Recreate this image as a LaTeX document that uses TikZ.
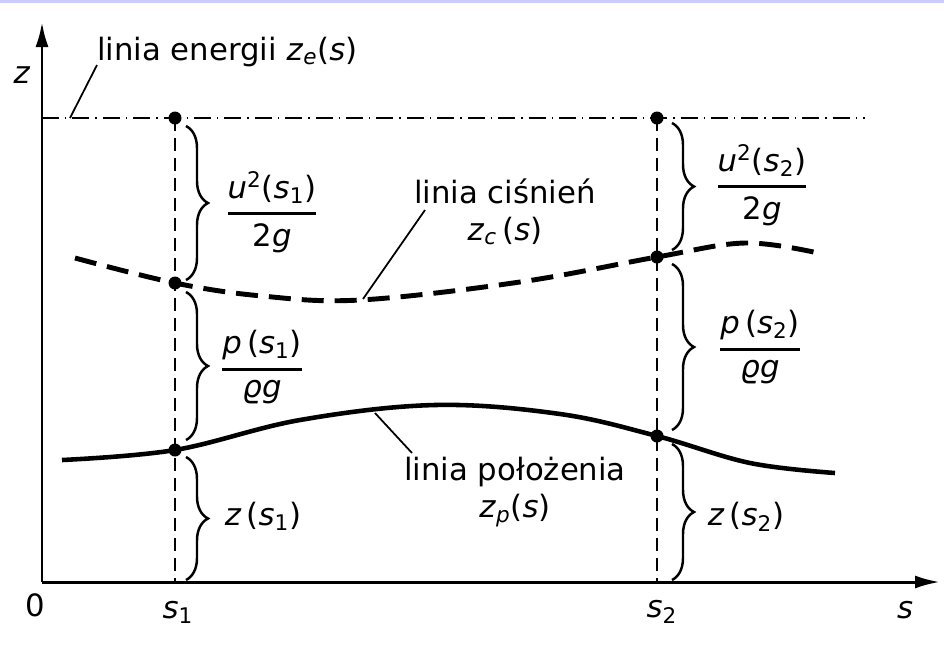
\documentclass[tikz,border=0pt]{standalone}
\usepackage{amsmath}
\usepackage{fontspec}
\setmainfont{DejaVu Sans}
\usetikzlibrary{arrows.meta,positioning,decorations.pathreplacing}
\definecolor{topband}{RGB}{204,204,255}
\newcommand{\vv}[1]{\textit{#1}}
\newcommand{\hfr}[2]{$\genfrac{}{}{1.6pt}{0}{\text{#1}}{\text{#2}}$}

\begin{document}
\begin{tikzpicture}[
  x=0.2mm,y=-0.2mm,>={Latex[length=5mm,width=2.6mm]},
  axis/.style={line width=1.7pt},
  energy/.style={line width=1pt,dash pattern=on 3.4mm off 1.2mm on 0.8pt off 1.2mm},
  pressure/.style={line width=2.8pt,dash pattern=on 4.4mm off 2.2mm},
  position/.style={line width=2.6pt},
  guide/.style={line width=1pt,dash pattern=on 2.6mm off 1.4mm},
  leader/.style={line width=1pt},
  dot/.style={circle,fill,inner sep=0pt,minimum size=2.6mm},
  brc/.style={line width=1.4pt,decorate,decoration={brace,amplitude=4.4mm}},
  lbl/.style={font=\fontsize{17.5}{21}\selectfont,inner sep=1pt,align=center}]
\useasboundingbox (0,0) rectangle (944,647);
\fill[topband] (0,0) rectangle (944,3);
% axes
\coordinate (O) at (42,582);
\coordinate (ztop) at (42,22);
\coordinate (send) at (940,582);
\draw[axis,->] (O) -- (ztop);
\draw[axis,->] (O) -- (send);
\node[lbl] (zlab) at (22,75) {\vv{z}};
\node[lbl] (olab) at (35,605) {0};
\node[lbl] (slab) at (905,610) {\vv{s}};
\node[lbl] (s1lab) at (178,612) {\vv{s}\textsubscript{1}};
\node[lbl] (s2lab) at (662,612) {\vv{s}\textsubscript{2}};
% points on the three lines
\coordinate (e1) at (175,118);
\coordinate (e2) at (657,118);
\coordinate (c1) at (175,283);
\coordinate (c2) at (657,257);
\coordinate (p1) at (175,450);
\coordinate (p2) at (657,436);
\coordinate (b1) at (175,582);
\coordinate (b2) at (657,582);
% energy line
\coordinate (eend) at (865,118);
\draw[energy] (O |- e1) -- (eend);
% pressure line
\draw[pressure] plot[smooth,tension=0.6] coordinates
  {(75,258) (c1) (262,296) (360,300) (520,282) (c2) (745,243) (818,253)};
% position line
\draw[position] plot[smooth,tension=0.6] coordinates
  {(62,460) (p1) (300,420) (435,405) (560,414) (p2) (750,463) (835,473)};
% sections
\draw[guide] (e1) -- (b1);
\draw[guide] (e2) -- (b2);
\node[dot] (de1) at (e1) {};
\node[dot] (de2) at (e2) {};
\node[dot] (dc1) at (c1) {};
\node[dot] (dc2) at (c2) {};
\node[dot] (dp1) at (p1) {};
\node[dot] (dp2) at (p2) {};
% braces
\draw[brc] (186,126) -- (186,280);
\draw[brc] (186,292) -- (186,440);
\draw[brc] (186,457) -- (186,580);
\draw[brc] (672,123) -- (672,250);
\draw[brc] (672,264) -- (672,430);
\draw[brc] (672,444) -- (672,580);
\node[lbl] (ulab1) at (272,212) {\hfr{\vv{u}\textsuperscript{2}(\vv{s}\textsubscript{1})}{2\vv{g}}};
\node[lbl] (plab1) at (262,367) {\hfr{\vv{p}\,(\vv{s}\textsubscript{1})}{\vv{ϱg}}};
\node[lbl] (zlab1) at (263,516) {\vv{z}\,(\vv{s}\textsubscript{1})};
\node[lbl] (ulab2) at (762,185) {\hfr{\vv{u}\textsuperscript{2}(\vv{s}\textsubscript{2})}{2\vv{g}}};
\node[lbl] (plab2) at (760,347) {\hfr{\vv{p}\,(\vv{s}\textsubscript{2})}{\vv{ϱg}}};
\node[lbl] (zlab2) at (746,517) {\vv{z}\,(\vv{s}\textsubscript{2})};
% line labels
\node[lbl,anchor=base west] (enlab) at (95,60)
  {linia energii \vv{z}\textsubscript{\vv{e}}(\vv{s})};
\node[lbl] (cislab) at (505,212) {linia ciśnień\\\vv{z}\textsubscript{\vv{c}}\,(\vv{s})};
\node[lbl] (poslab) at (515,492) {linia położenia\\\vv{z}\textsubscript{\vv{p}}(\vv{s})};
\coordinate (le1) at (70,118);
\coordinate (le2) at (97,65);
\coordinate (lc1) at (363,299);
\coordinate (lc2) at (425,210);
\coordinate (lp1) at (375,413);
\coordinate (lp2) at (412,453);
\draw[leader] (le1) -- (le2);
\draw[leader] (lc1) -- (lc2);
\draw[leader] (lp1) -- (lp2);
\end{tikzpicture}
\end{document}
